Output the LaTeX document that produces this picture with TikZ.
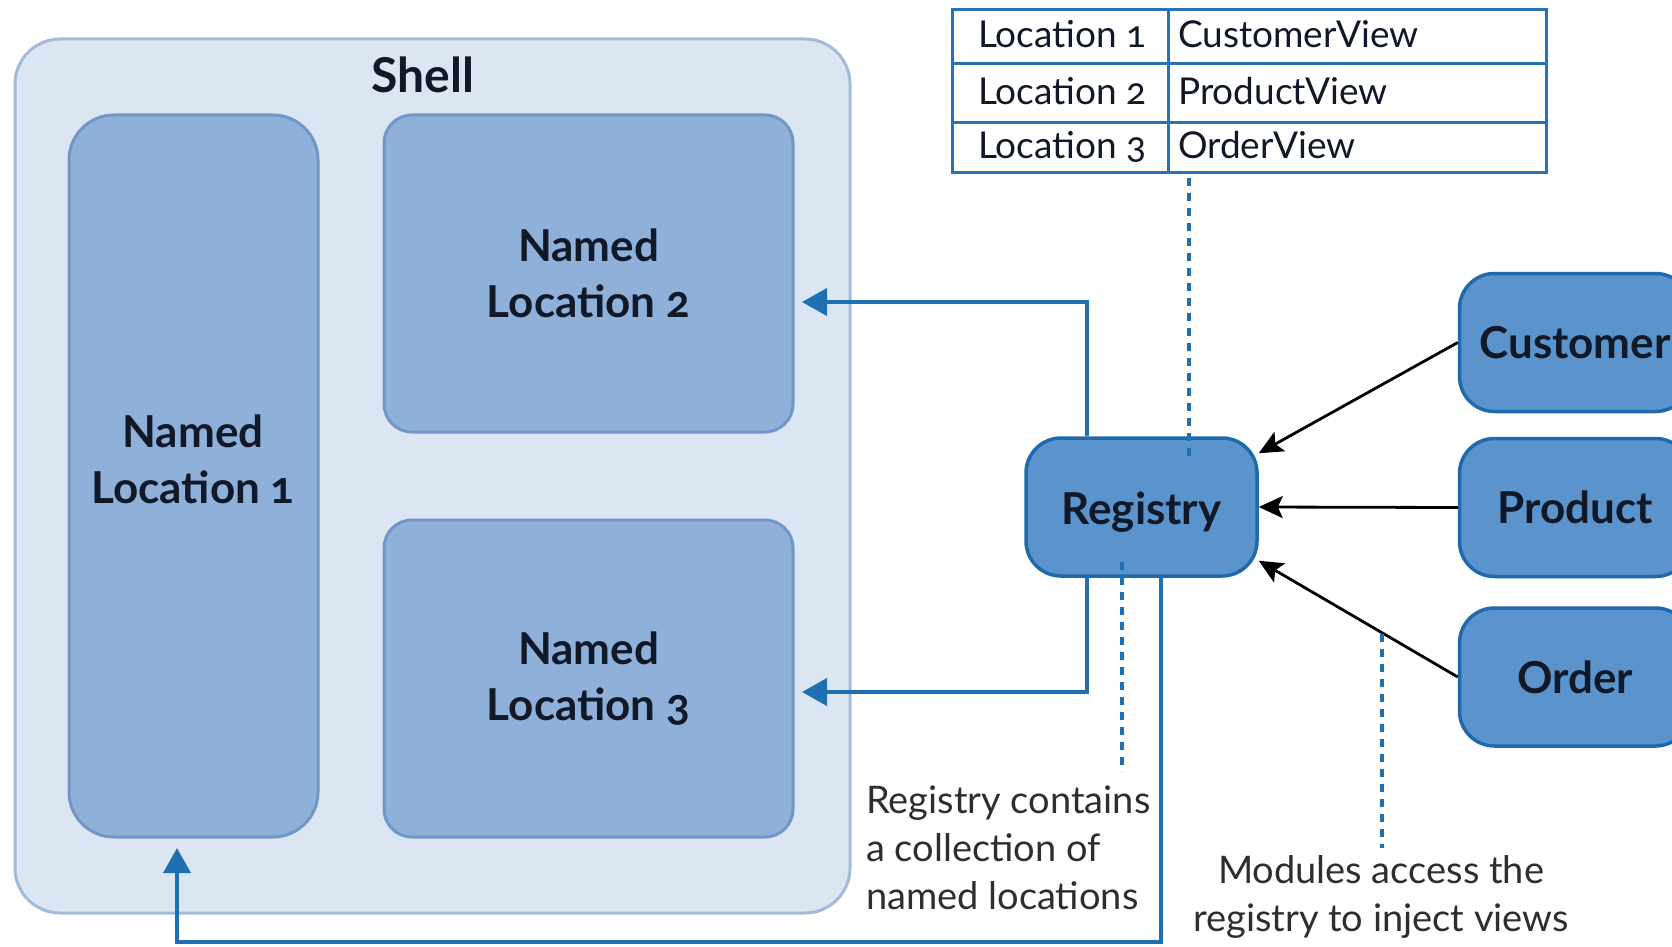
\documentclass[tikz,border=0pt]{standalone}
\usepackage{fontspec}
\setmainfont{Lato}[Numbers=OldStyle]
\usetikzlibrary{arrows.meta,calc}
\definecolor{shellfill}{HTML}{DCE6F2}
\definecolor{shellline}{HTML}{A3BADA}
\definecolor{locfill}{HTML}{8FB0D8}
\definecolor{locline}{HTML}{7097C7}
\definecolor{modfill}{HTML}{5B94CD}
\definecolor{modline}{HTML}{2169AE}
\definecolor{wirec}{HTML}{1E70B2}
\definecolor{tabline}{HTML}{2A72B4}
\definecolor{txt}{HTML}{111827}
\definecolor{notec}{HTML}{2E2E2E}
\newcommand\lblfont{\fontsize{44}{56}\selectfont\bfseries}
\newcommand\shellfont{\fontsize{48}{56}\selectfont\bfseries}
\newcommand\tabfont{\fontsize{37}{40}\selectfont}
\newcommand\notefont{\fontsize{38}{48}\selectfont}
\begin{document}
\begin{tikzpicture}[x=1pt,y=-1pt,
  shellbox/.style={draw=shellline, line width=3pt, fill=shellfill, rounded corners=45pt, minimum width=835pt, minimum height=874pt, inner sep=0pt},
  locbox/.style={draw=locline, line width=3pt, fill=locfill, inner sep=0pt, align=center, font=\lblfont, text=txt},
  modbox/.style={draw=modline, line width=3.5pt, fill=modfill, rounded corners=35pt, minimum width=231pt, minimum height=138pt, inner sep=0pt, font=\lblfont, text=txt},
  lbltxt/.style={inner sep=0pt, align=center, font=\lblfont, text=txt},
  wire/.style={draw=wirec, line width=4pt, -{Triangle[length=25pt,width=27pt]}},
  blk/.style={draw=black, line width=2.8pt, -{Stealth[length=24pt,width=22pt,inset=5pt]}},
  dotl/.style={draw=wirec, line width=3.5pt, dash pattern=on 8pt off 7pt},
  cell/.style={draw=tabline, line width=3pt, inner sep=0pt, fill=white},
  celltxt/.style={anchor=base west, inner sep=0pt, font=\tabfont, text=txt},
  note/.style={inner sep=0pt, font=\notefont, text=notec}
]
\useasboundingbox (0,0) rectangle (1672,947);
\clip (0,0) rectangle (1672,947);
\fill[white] (0,0) rectangle (1672,947);

% shell and locations
\node[shellbox] (shell) at (432.5,476) {};
\node[inner sep=0pt, font=\shellfont, text=txt] (shelltitle) at (423,75) {Shell};
\node[locbox, rounded corners=45pt, minimum width=249pt, minimum height=722pt] (nl1) at (193.5,476) {};
\node[lbltxt] (nl1t) at (193,459) {Named\\Location 1};
\node[locbox, rounded corners=28pt, minimum width=409pt, minimum height=317pt] (nl2) at (588.5,273.5) {Named\\Location 2};
\node[locbox, rounded corners=28pt, minimum width=409pt, minimum height=317pt] (nl3) at (588.5,678.5) {Named\\Location 3};

% table
\node[cell, minimum width=216pt, minimum height=54pt] (r1a) at (1060,37) {};
\node[cell, minimum width=378pt, minimum height=54pt] (r1b) at (1357,37) {};
\node[cell, minimum width=216pt, minimum height=59pt] (r2a) at (1060,93.5) {};
\node[cell, minimum width=378pt, minimum height=59pt] (r2b) at (1357,93.5) {};
\node[cell, minimum width=216pt, minimum height=49pt] (r3a) at (1060,147.5) {};
\node[cell, minimum width=378pt, minimum height=49pt] (r3b) at (1357,147.5) {};
\node[celltxt] (t1a) at (978,48) {Location 1};
\node[celltxt] (t1b) at (1178,48) {CustomerView};
\node[celltxt] (t2a) at (978,105) {Location 2};
\node[celltxt] (t2b) at (1178,105) {ProductView};
\node[celltxt] (t3a) at (978,158) {Location 3};
\node[celltxt] (t3b) at (1178,158) {OrderView};

% registry and modules
\node[modbox] (reg) at (1141.5,507) {\raisebox{-5pt}[\height][\depth]{Registry}};
\node[modbox] (cust) at (1575,342.5) {Customer};
\node[modbox] (prod) at (1575,507.5) {Product};
\node[modbox] (ord) at (1575,677) {Order};

% blue connectors
\coordinate (tip2) at (802,302);
\coordinate (tip3) at (802,692);
\coordinate (tip1) at (177,848);
\coordinate (bot) at (177,942);
\draw[wire] ([xshift=63pt]reg.north west) |- (tip2);
\draw[wire] ([xshift=63pt]reg.south west) |- (tip3);
\draw[wire] ([xshift=137pt]reg.south west) |- (bot) -- (tip1);

% black connectors
\draw[blk] (cust.west) -- ([yshift=-17pt]reg.north east);
\draw[blk] (prod.west) -- (reg.east);
\draw[blk] (ord.west) -- ([yshift=17pt]reg.south east);

% dotted leaders
\coordinate (d1a) at (1189,178);
\coordinate (d1b) at (1189,458);
\coordinate (d2a) at (1122,562);
\coordinate (d2b) at (1122,772);
\coordinate (d3a) at (1382,634);
\coordinate (d3b) at (1382,848);
\draw[dotl] (d1a) -- (d1b);
\draw[dotl] (d2a) -- (d2b);
\draw[dotl] (d3a) -- (d3b);

% notes
\node[note, anchor=west, align=left] (note1) at (866,848) {Registry contains\\a collection of\\named locations};
\node[note, align=center] (note2) at (1381,897) {Modules access the\\registry to inject views};
\end{tikzpicture}
\end{document}
